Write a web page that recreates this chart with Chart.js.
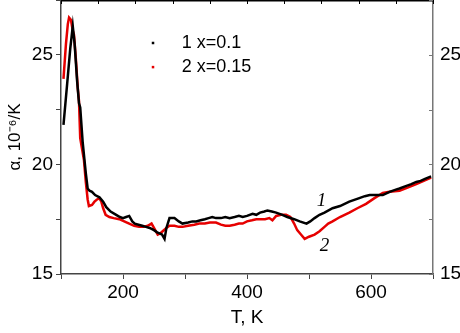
<!DOCTYPE html>
<html>
<head>
<meta charset="utf-8">
<script src="https://cdn.jsdelivr.net/npm/chart.js@4"></script>
<style>
  html, body { margin: 0; padding: 0; background: #fff; }
  #wrap { width: 460px; height: 333px; }
</style>
</head>
<body>
<div id="wrap"><canvas id="chart" width="460" height="333"></canvas></div>
<script>
// series 1, x=0.1
const temp1 = [104, 110, 115, 119, 122, 126, 129, 131, 135, 140, 143, 146, 150, 155, 162, 168, 173, 180, 189, 195,
  200, 205, 210, 215, 219, 225, 231, 237, 243, 250, 255, 259, 263, 267, 270, 275, 283, 290, 296, 305,
  312, 318, 325, 332, 338, 344, 350, 358, 365, 372, 380, 387, 393, 400, 409, 415, 421, 428, 433, 440,
  447, 457, 465, 476, 485, 496, 502, 509, 517, 525, 538, 550, 565, 580, 590, 598, 610, 619, 630, 640,
  646, 655, 665, 673, 680, 688, 697];
const alpha1 = [21.8, 23.7, 25.3, 26.3, 25.5, 23.8, 22.8, 22.6, 21.0, 19.6, 18.9, 18.8, 18.75, 18.6, 18.5, 18.3, 18.05, 17.85, 17.7, 17.6,
  17.55, 17.6, 17.65, 17.4, 17.3, 17.25, 17.2, 17.15, 17.1, 17.0, 16.9, 16.85, 16.8, 16.6, 17.1, 17.55, 17.55, 17.4, 17.3, 17.35,
  17.4, 17.4, 17.45, 17.5, 17.55, 17.6, 17.55, 17.55, 17.6, 17.55, 17.6, 17.65, 17.6, 17.65, 17.75, 17.7, 17.8, 17.85, 17.9, 17.85,
  17.8, 17.7, 17.6, 17.5, 17.4, 17.3, 17.4, 17.55, 17.7, 17.8, 18.0, 18.1, 18.3, 18.45, 18.55, 18.6, 18.6, 18.6, 18.75, 18.85,
  18.9, 19.0, 19.1, 19.2, 19.25, 19.35, 19.45];

// series 2, x=0.15
const temp2 = [104, 108, 111, 113, 116, 119, 121, 124, 127, 129, 131, 134, 137, 140, 143, 145, 150, 154, 158, 162,
  165, 168, 172, 178, 185, 194, 202, 210, 218, 226, 233, 240, 246, 250, 256, 260, 264, 270, 275, 283,
  290, 296, 305, 315, 323, 332, 340, 350, 358, 365, 372, 380, 387, 393, 400, 408, 415, 422, 429, 436,
  441, 447, 455, 463, 470, 476, 481, 487, 493, 500, 509, 517, 525, 531, 538, 550, 565, 578, 592, 605,
  619, 630, 646, 660, 673, 685, 697];
const alpha2 = [23.9, 25.5, 26.4, 26.7, 26.6, 26.1, 25.9, 24.8, 23.5, 22.9, 21.2, 20.7, 20.2, 19.2, 18.4, 18.1, 18.15, 18.3, 18.4, 18.45,
  18.3, 18.0, 17.7, 17.6, 17.55, 17.5, 17.4, 17.3, 17.2, 17.15, 17.15, 17.2, 17.3, 17.1, 16.8, 16.85, 16.95, 17.1, 17.2, 17.2,
  17.15, 17.15, 17.2, 17.25, 17.3, 17.3, 17.35, 17.35, 17.25, 17.2, 17.2, 17.25, 17.3, 17.3, 17.4, 17.45, 17.5, 17.5, 17.5, 17.55,
  17.45, 17.65, 17.7, 17.7, 17.6, 17.3, 17.0, 16.8, 16.6, 16.7, 16.8, 16.95, 17.15, 17.3, 17.4, 17.6, 17.8, 18.0, 18.2, 18.45,
  18.7, 18.75, 18.8, 18.95, 19.1, 19.25, 19.4];

const seriesNames = ["1 x=0.1", "2 x=0.15"];
const seriesColors = ["#000000", "#e60000"];
const xLabels = [200, 400, 600];
const yLabels = [15, 20, 25];

const FONT = "'Liberation Sans', Arial, sans-serif";

function toPoints(xs, ys) {
  return xs.map((x, i) => ({ x: x, y: ys[i] }));
}

// no space reserved above/below the y axes for half tick labels
function fitY(width) {
  return (s) => {
    s.width = width;
    s.paddingTop = 0;
    s.paddingBottom = 0;
  };
}

// frame bits the library doesn't do: top border, inward ticks, legend, curve numbers
const extras = {
  id: "extras",
  afterDraw(chart) {
    const ctx = chart.ctx;
    const xs = chart.scales.x;
    const ys = chart.scales.y;
    const area = chart.chartArea;
    ctx.save();

    // top border with inward ticks
    ctx.strokeStyle = "#000";
    ctx.lineWidth = 1.5;
    ctx.beginPath();
    ctx.moveTo(area.left, area.top + 0.75);
    ctx.lineTo(area.right, area.top + 0.75);
    ctx.stroke();
    ctx.lineWidth = 1;
    for (let t = 100; t <= 700; t += 60) {
      const px = Math.round(xs.getPixelForValue(t)) + 0.5;
      ctx.beginPath();
      ctx.moveTo(px, area.top);
      ctx.lineTo(px, area.top + 4);
      ctx.stroke();
    }

    // right axis inward ticks
    ctx.strokeStyle = "#777";
    for (let a = 15; a <= 27.5; a += 2.5) {
      const py = Math.round(ys.getPixelForValue(a)) + 0.5;
      ctx.beginPath();
      ctx.moveTo(area.right, py);
      ctx.lineTo(area.right - 4, py);
      ctx.stroke();
    }

    // legend
    ctx.font = "18px " + FONT;
    ctx.textBaseline = "middle";
    const lx = xs.getPixelForValue(248);
    const rows = [25.55, 24.45];
    seriesNames.forEach((name, i) => {
      const py = ys.getPixelForValue(rows[i]);
      ctx.fillStyle = seriesColors[i];
      ctx.fillRect(lx - 1, py - 1, 2.5, 2.5);
      ctx.fillStyle = "#000";
      ctx.fillText(name, lx + 29, py);
    });

    // curve numbers
    ctx.font = "italic 19px 'Liberation Serif', 'Times New Roman', serif";
    ctx.textAlign = "center";
    ctx.fillText("1", xs.getPixelForValue(520), ys.getPixelForValue(18.35));
    ctx.fillText("2", xs.getPixelForValue(525), ys.getPixelForValue(16.3));
    ctx.restore();
  },
};

const chart = new Chart(document.getElementById("chart").getContext("2d"), {
  type: "line",
  data: {
    datasets: [
      {
        label: seriesNames[0],
        data: toPoints(temp1, alpha1),
        borderColor: seriesColors[0],
        borderWidth: 2.5,
        pointRadius: 0,
        tension: 0,
      },
      {
        label: seriesNames[1],
        data: toPoints(temp2, alpha2),
        borderColor: seriesColors[1],
        borderWidth: 2.5,
        pointRadius: 0,
        tension: 0,
      },
    ],
  },
  options: {
    responsive: false,
    animation: false,
    layout: { padding: 0 },
    plugins: { legend: { display: false }, tooltip: { enabled: false } },
    scales: {
      x: {
        type: "linear",
        min: 100,
        max: 700,
        afterFit: (s) => { s.height = 59; s.paddingLeft = 0; s.paddingRight = 0; },
        border: { color: "#444", width: 1.5 },
        grid: { drawOnChartArea: false, color: "#444", tickLength: 5, lineWidth: 1 },
        ticks: {
          stepSize: 100,
          padding: 2,
          color: "#000",
          font: { family: FONT, size: 19 },
          maxRotation: 0,
          autoSkip: false,
          callback: (v) => (xLabels.includes(v) ? v : ""),
        },
        title: {
          display: true,
          text: "T, K",
          color: "#000",
          font: { family: FONT, size: 19 },
          padding: { top: 0, bottom: 4 },
        },
      },
      y: {
        type: "linear",
        position: "left",
        min: 15,
        max: 27.5,
        afterFit: fitY(61),
        border: { color: "#444", width: 1.5 },
        grid: { drawOnChartArea: false, color: "#444", tickLength: 5, lineWidth: 1 },
        ticks: {
          stepSize: 2.5,
          padding: 3,
          color: "#000",
          font: { family: FONT, size: 19 },
          autoSkip: false,
          callback: (v) => (yLabels.includes(v) ? v : ""),
        },
        title: {
          display: true,
          text: "α, 10⁻⁶/K",
          color: "#000",
          font: { family: FONT, size: 17 },
          padding: { top: 5, bottom: 0 },
        },
      },
      y2: {
        type: "linear",
        position: "right",
        min: 15,
        max: 27.5,
        afterFit: fitY(27),
        border: { color: "#777", width: 1.5 },
        grid: { drawOnChartArea: false, drawTicks: false },
        ticks: {
          stepSize: 2.5,
          padding: 7,
          color: "#000",
          font: { family: FONT, size: 19 },
          autoSkip: false,
          callback: (v) => (yLabels.includes(v) ? v : ""),
        },
      },
    },
  },
  plugins: [extras],
});
</script>
</body>
</html>
